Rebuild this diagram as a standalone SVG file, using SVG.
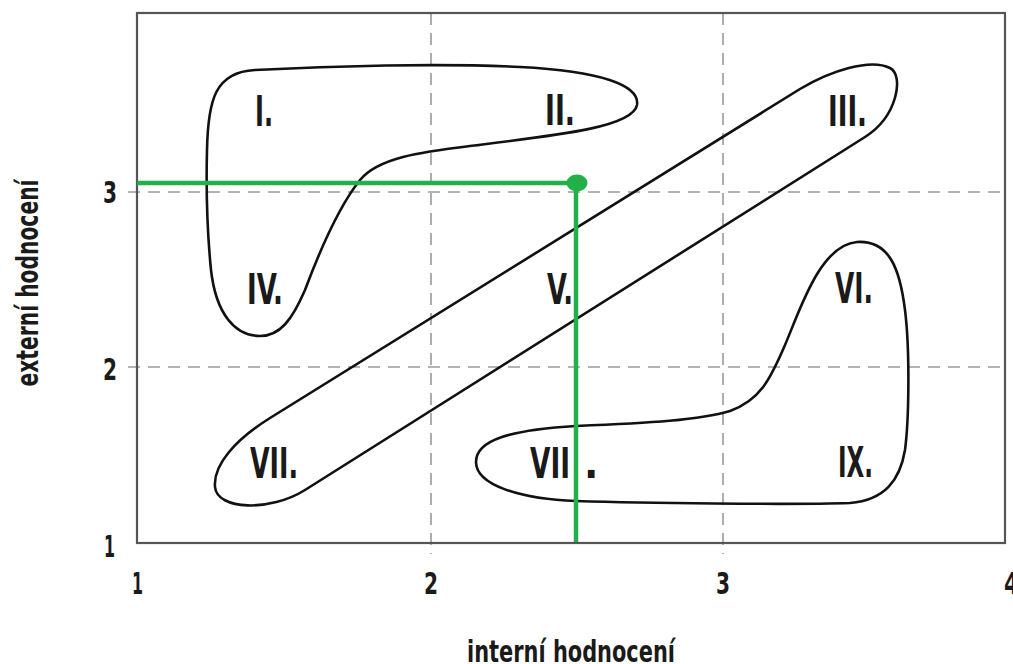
<svg xmlns="http://www.w3.org/2000/svg" width="1013" height="664" viewBox="0 0 1013 664">
<style>
.grid{stroke:#9a9a9a;stroke-width:1.6;stroke-dasharray:12 8;fill:none}
.frame{fill:none;stroke:#555;stroke-width:2.2}
.region{fill:none;stroke:#111;stroke-width:2.6}
.green{stroke:#22b04b;stroke-width:4.5;fill:none}
.lbl{font-family:'Liberation Sans Narrow','DejaVu Sans Condensed','DejaVu Sans',sans-serif;font-weight:bold;font-size:42px;fill:#1a1a1a}
.tick{font-family:'Liberation Sans Narrow','DejaVu Sans Condensed','DejaVu Sans',sans-serif;font-weight:bold;font-size:31px;fill:#1a1a1a}
.title{font-family:'Liberation Sans Narrow','DejaVu Sans Condensed','DejaVu Sans',sans-serif;font-weight:bold;font-size:30px;fill:#1a1a1a;text-anchor:middle}
</style>
<rect width="1013" height="664" fill="#fff"/>
<g id="grid">
<line class="grid" x1="128" y1="192" x2="1005" y2="192"/>
<line class="grid" x1="128" y1="367" x2="1005" y2="367"/>
<line class="grid" x1="431" y1="13" x2="431" y2="554"/>
<line class="grid" x1="723" y1="13" x2="723" y2="554"/>
</g>
<rect id="frame" class="frame" x="137" y="13" width="868" height="530"/>
<g id="axes">
<text class="tick" x="103" y="203" textLength="14" lengthAdjust="spacingAndGlyphs">3</text>
<text class="tick" x="103" y="380" textLength="14" lengthAdjust="spacingAndGlyphs">2</text>
<text class="tick" x="104" y="557" textLength="11" lengthAdjust="spacingAndGlyphs">1</text>
<text class="tick" x="132" y="594" textLength="11" lengthAdjust="spacingAndGlyphs">1</text>
<text class="tick" x="424" y="594" textLength="14" lengthAdjust="spacingAndGlyphs">2</text>
<text class="tick" x="716" y="594" textLength="14" lengthAdjust="spacingAndGlyphs">3</text>
<text class="tick" x="1004" y="594" textLength="15" lengthAdjust="spacingAndGlyphs">4</text>
<text class="title" x="571" y="662" textLength="208" lengthAdjust="spacingAndGlyphs">interní hodnocení</text>
<text class="title" transform="translate(38,283) rotate(-90)" x="0" y="0" textLength="207" lengthAdjust="spacingAndGlyphs">externí hodnocení</text>
</g>
<g id="region-I-II-IV">
<path class="region" d="M260,336 C235,336 216,314 211,270 C207,230 206,190 207,150 C208,100 215,72 255,70 C330,66 440,63 520,67 C600,71 640,85 637,105 C633,127 560,135 470,146 C420,152 378,158 360,180 C340,205 320,250 305,290 C292,320 280,336 260,336 Z"/>
<text class="lbl" x="255" y="126" textLength="18" lengthAdjust="spacingAndGlyphs">I.</text>
<text class="lbl" x="545" y="125" textLength="30" lengthAdjust="spacingAndGlyphs">II.</text>
<text class="lbl" x="247" y="304" textLength="36" lengthAdjust="spacingAndGlyphs">IV.</text>
</g>
<g id="region-III-V-VII">
<path class="region" d="M215,487 C213,465 235,440 270,418 L800,89 C830,71 870,58 890,68 C904,75 898,116 865,137 L305,490 C270,512 217,510 215,487 Z"/>
<text class="lbl" x="828" y="126" textLength="39" lengthAdjust="spacingAndGlyphs">III.</text>
<text class="lbl" x="547" y="304" textLength="26" lengthAdjust="spacingAndGlyphs">V.</text>
<text class="lbl" x="250" y="478" textLength="48" lengthAdjust="spacingAndGlyphs">VII.</text>
</g>
<g id="region-VI-VIII-IX">
<path class="region" d="M476,462 C476,440 510,430 576,426 C650,423 700,420 730,411 C760,400 770,380 785,345 C800,310 820,245 857,242 C890,240 900,270 905,310 C910,350 909,420 905,450 C900,480 885,500 850,503 C790,505 640,503 576,501 C520,499 476,485 476,462 Z"/>
<text class="lbl" x="835" y="303" textLength="38" lengthAdjust="spacingAndGlyphs">VI.</text>
<text class="lbl" x="530" y="478" textLength="40" lengthAdjust="spacingAndGlyphs">VII</text>
<text class="lbl" x="584" y="478">.</text>
<text class="lbl" x="838" y="477" textLength="35" lengthAdjust="spacingAndGlyphs">IX.</text>
</g>
<g id="connectors">
<line class="green" x1="137" y1="183" x2="577" y2="183"/>
<line class="green" x1="576" y1="183" x2="576" y2="542"/>
<ellipse cx="577" cy="183" rx="10.5" ry="8.5" fill="#22b04b"/>
</g>
</svg>
